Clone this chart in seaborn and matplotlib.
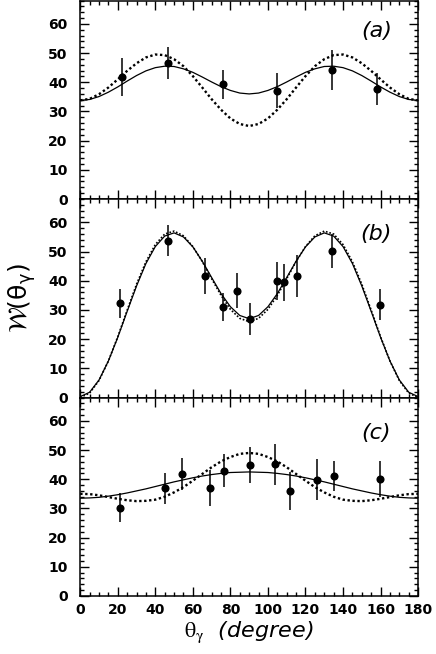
import matplotlib
matplotlib.use("Agg")
import matplotlib.pyplot as plt
import seaborn as sns
import pandas as pd
from matplotlib.ticker import MultipleLocator

# angle grid for the fitted curves (degrees)
angles = [0, 5, 10, 15, 20, 25, 30, 35, 40, 45, 50, 55, 60, 65, 70, 75, 80, 85, 90,
          95, 100, 105, 110, 115, 120, 125, 130, 135, 140, 145, 150, 155, 160, 165,
          170, 175, 180]

# panel (a)
a_solid = [33.8, 34.1, 35.1, 36.6, 38.4, 40.4, 42.3, 43.9, 45.0, 45.5, 45.4, 44.6, 43.4,
           41.8, 40.1, 38.5, 37.2, 36.3, 36.0, 36.3, 37.2, 38.5, 40.1, 41.8, 43.4, 44.6,
           45.4, 45.5, 45.0, 43.9, 42.3, 40.4, 38.4, 36.6, 35.1, 34.1, 33.8]
a_dotted = [33.8, 34.3, 35.9, 38.2, 41.0, 43.9, 46.5, 48.5, 49.5, 49.3, 47.9, 45.5, 42.1,
            38.2, 34.2, 30.6, 27.6, 25.7, 25.0, 25.7, 27.6, 30.6, 34.2, 38.2, 42.1, 45.5,
            47.9, 49.3, 49.5, 48.5, 46.5, 43.9, 41.0, 38.2, 35.9, 34.3, 33.8]
a_x = [22.5, 46.7, 76.0, 104.7, 133.9, 158.0]
a_y = [41.8, 46.7, 39.3, 37.1, 44.2, 37.6]
a_err = [6.4, 5.5, 5.0, 6.0, 7.0, 5.5]

# panel (b)
b_solid = [0.3, 1.8, 6.0, 12.5, 20.6, 29.5, 38.2, 45.9, 51.7, 55.3, 56.4, 55.0, 51.6,
           46.7, 41.1, 35.6, 31.1, 28.1, 27.0, 28.1, 31.1, 35.6, 41.1, 46.7, 51.6, 55.0,
           56.4, 55.3, 51.7, 45.9, 38.2, 29.5, 20.6, 12.5, 6.0, 1.8, 0.3]
b_dotted = [0.0, 1.5, 5.8, 12.5, 20.8, 29.9, 38.8, 46.5, 52.4, 56.0, 57.0, 55.4, 51.7,
            46.6, 40.7, 35.0, 30.2, 27.1, 26.0, 27.1, 30.2, 35.0, 40.7, 46.6, 51.7, 55.4,
            57.0, 56.0, 52.4, 46.5, 38.8, 29.9, 20.8, 12.5, 5.8, 1.5, 0.0]
b_x = [21.1, 46.9, 66.6, 76.2, 83.6, 90.4, 104.7, 108.3, 115.6, 133.9, 159.8]
b_y = [32.3, 53.7, 41.6, 31.1, 36.6, 26.9, 39.9, 39.5, 41.6, 50.2, 31.7]
b_err = [5.0, 5.3, 6.3, 4.8, 6.1, 5.4, 6.4, 6.3, 7.1, 5.9, 5.3]

# panel (c)
c_solid = [33.5, 33.6, 33.8, 34.2, 34.7, 35.3, 36.0, 36.7, 37.5, 38.3, 39.1, 39.8, 40.5,
           41.1, 41.6, 42.0, 42.3, 42.4, 42.5, 42.4, 42.3, 42.0, 41.6, 41.1, 40.5, 39.8,
           39.1, 38.3, 37.5, 36.7, 36.0, 35.3, 34.7, 34.2, 33.8, 33.6, 33.5]
c_dotted = [35.0, 34.9, 34.5, 33.9, 33.3, 32.8, 32.5, 32.6, 33.0, 34.0, 35.5, 37.3, 39.5,
            41.8, 44.1, 46.1, 47.6, 48.7, 49.0, 48.7, 47.6, 46.1, 44.1, 41.8, 39.5, 37.3,
            35.5, 34.0, 33.0, 32.6, 32.5, 32.8, 33.3, 33.9, 34.5, 34.9, 35.0]
c_x = [21.1, 45.4, 54.3, 69.1, 76.7, 90.4, 104.0, 111.7, 126.2, 135.1, 159.8]
c_y = [30.3, 36.9, 41.8, 37.0, 42.9, 44.8, 45.1, 36.1, 39.8, 41.1, 40.2]
c_err = [5.1, 5.3, 5.4, 6.3, 5.7, 6.2, 7.1, 6.5, 7.0, 5.2, 6.2]

panel_labels = ["(a)", "(b)", "(c)"]
x_ticks = [0, 20, 40, 60, 80, 100, 120, 140, 160, 180]
y_ticks = [0, 10, 20, 30, 40, 50, 60]

sns.set_theme(style="ticks")
plt.rcParams["font.family"] = ["DejaVu Sans"]
plt.rcParams["text.color"] = "black"
plt.rcParams["axes.labelcolor"] = "black"
plt.rcParams["xtick.color"] = "black"
plt.rcParams["ytick.color"] = "black"

fig = plt.figure(figsize=(4.36, 6.54), dpi=100)
left, width = 0.184, 0.775
height = 0.3035
bottoms = [0.0887 + 2 * height, 0.0887 + height, 0.0887]
label_y = [0.845, 0.824, 0.823]

panels = [
    (a_solid, a_dotted, a_x, a_y, a_err, 1.7),
    (b_solid, b_dotted, b_x, b_y, b_err, 1.2),
    (c_solid, c_dotted, c_x, c_y, c_err, 1.7),
]

axes = []
for i, (solid, dotted, px, py, perr, dot_lw) in enumerate(panels):
    ax = fig.add_axes([left, bottoms[i], width, height])
    axes.append(ax)
    curves = pd.DataFrame({"angle": angles, "solid": solid, "dotted": dotted})

    sns.lineplot(data=curves, x="angle", y="dotted", ax=ax, color="black",
                 lw=dot_lw, dashes=False)
    ax.lines[-1].set_dashes((1, 1.1))
    sns.lineplot(data=curves, x="angle", y="solid", ax=ax, color="black", lw=0.9)

    ax.errorbar(px, py, yerr=perr, fmt="none", ecolor="black", elinewidth=1.1, capsize=0)
    sns.scatterplot(x=px, y=py, ax=ax, color="black", s=34, edgecolor="black",
                    linewidth=0, zorder=5)

    ax.set_xlim(0, 180)
    ax.set_ylim(0, 68)
    ax.set_xticks(x_ticks)
    ax.set_yticks(y_ticks)
    ax.xaxis.set_minor_locator(MultipleLocator(5))
    ax.yaxis.set_minor_locator(MultipleLocator(2))
    ax.tick_params(which="both", direction="in", top=True, right=True, width=1.0,
                   color="black", labelcolor="black")
    ax.tick_params(which="major", length=6.5)
    ax.tick_params(which="minor", length=3.2)
    ax.tick_params(axis="y", pad=9)
    ax.tick_params(axis="x", pad=5)
    for lab in ax.get_yticklabels() + ax.get_xticklabels():
        lab.set_fontweight("bold")
        lab.set_fontsize(10)
    for sp in ax.spines.values():
        sp.set_linewidth(1.1)
        sp.set_color("black")
    ax.set_xlabel("")
    ax.set_ylabel("")
    if i < 2:
        ax.tick_params(axis="x", labelbottom=False)
    ax.text(0.876, label_y[i], panel_labels[i], transform=ax.transAxes,
            fontsize=16, fontstyle="italic", ha="center", va="center", color="black")

axes[1].set_ylabel(r"$\mathcal{W}(\mathrm{\theta_\gamma})$", fontsize=18,
                   math_fontfamily="dejavusans", color="black")
axes[1].yaxis.set_label_coords(-0.125, 0.5)
axes[2].set_xlabel(r"$\mathrm{\theta_\gamma}$  (degree)", fontsize=16,
                   fontstyle="italic", math_fontfamily="stix", labelpad=2,
                   color="black")

fig.savefig("out.png", dpi=100)
